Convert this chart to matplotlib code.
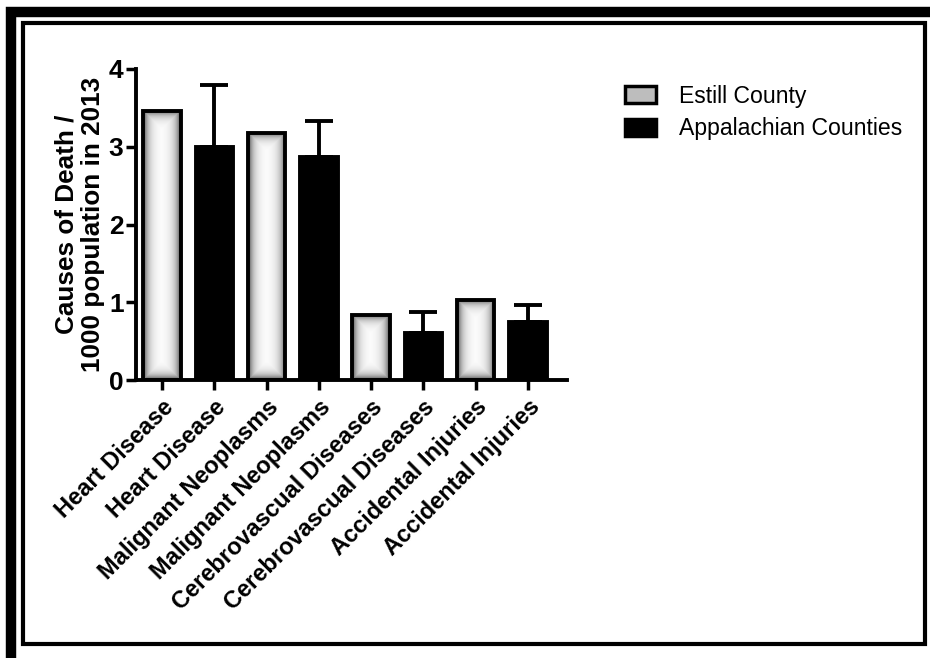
import matplotlib.pyplot as plt
from matplotlib.patches import Rectangle, Patch
import numpy as np

plt.rcParams['font.family'] = ['Liberation Sans', 'DejaVu Sans']

causes = ['Heart Disease', 'Malignant Neoplasms', 'Cerebrovascual Diseases', 'Accidental Injuries']
estill = [3.46, 3.18, 0.84, 1.03]
appalachian = [3.00, 2.87, 0.60, 0.75]
appalachian_err = [0.80, 0.46, 0.27, 0.22]
series_names = ['Estill County', 'Appalachian Counties']
yticks = [0, 1, 2, 3, 4]

tick_labels = []
for c in causes:
    tick_labels += [c, c]

fig = plt.figure(figsize=(9.3, 6.58), dpi=100)

# picture frame
fig.patches.append(Rectangle((11 / 930, -0.05), 1.2, (658 - 12) / 658 + 0.05, transform=fig.transFigure,
                             fill=False, edgecolor='black', linewidth=7.5, zorder=0))
fig.patches.append(Rectangle((23 / 930, (658 - 644) / 658), (925 - 23) / 930, (644 - 23) / 658,
                             transform=fig.transFigure, fill=False, edgecolor='black', linewidth=3, zorder=0))

ax = fig.add_axes([136 / 930, 1 - 380 / 658, (567 - 136) / 930, (380 - 69) / 658])

x_est = np.arange(len(causes)) * 2
x_app = x_est + 1
w = 0.72

bars_est = ax.bar(x_est, estill, width=w, facecolor='none', edgecolor='black', linewidth=2.8, zorder=3)
ax.bar(x_app, appalachian, width=w, color='black', edgecolor='black', linewidth=2.8, zorder=3)
ax.errorbar(x_app, appalachian, yerr=[np.zeros(len(appalachian)), appalachian_err], fmt='none',
            ecolor='black', elinewidth=2.8, capsize=10, capthick=2.8, zorder=2)

# soft gradient fill inside the Estill bars
for b, v in zip(bars_est, estill):
    ny = max(int(v * 78), 2)
    nx = 38
    yy, xx = np.mgrid[0:ny, 0:nx]
    d = np.minimum(np.minimum(xx, nx - 1 - xx), np.minimum(yy, ny - 1 - yy)).astype(float)
    img = 1 - 0.7 * np.exp(-d / 5.0)
    im = ax.imshow(img, cmap='gray', vmin=0, vmax=1, extent=[b.get_x(), b.get_x() + w, 0, v],
                   aspect='auto', zorder=2, interpolation='bilinear')
    im.set_clip_path(b)

ax.set_xlim(-0.5, 7.75)
ax.set_ylim(0, 4)
ax.set_yticks(yticks)
ax.set_xticks(list(np.arange(8)))
ax.set_xticklabels(tick_labels, rotation=45, ha='right', rotation_mode='anchor',
                   fontsize=17, fontweight='bold')
for t in ax.get_yticklabels():
    t.set_fontsize(19)
    t.set_fontweight('bold')
ax.tick_params(axis='both', width=2.5, length=7, direction='out')
ax.tick_params(axis='y', pad=2)
ax.tick_params(axis='x', pad=4)
for s in ['top', 'right']:
    ax.spines[s].set_visible(False)
for s in ['left', 'bottom']:
    ax.spines[s].set_linewidth(2.8)

ax.set_ylabel('Causes of Death /\n1000 population in 2013', fontsize=18.8, fontweight='bold',
              labelpad=3, linespacing=1.1)

# gradient legend handle is approximated with a flat grey
handles = [Patch(facecolor='#bdbdbd', edgecolor='black', linewidth=2.5),
           Patch(facecolor='black', edgecolor='black', linewidth=2.5)]
fig.legend(handles, series_names, loc='upper left', bbox_to_anchor=(604 / 930, 1 - 64 / 658),
           frameon=False, fontsize=16.6, handlelength=1.35, handleheight=0.75, handletextpad=1.0,
           labelspacing=0.42)

fig.savefig('out.png', dpi=100)
